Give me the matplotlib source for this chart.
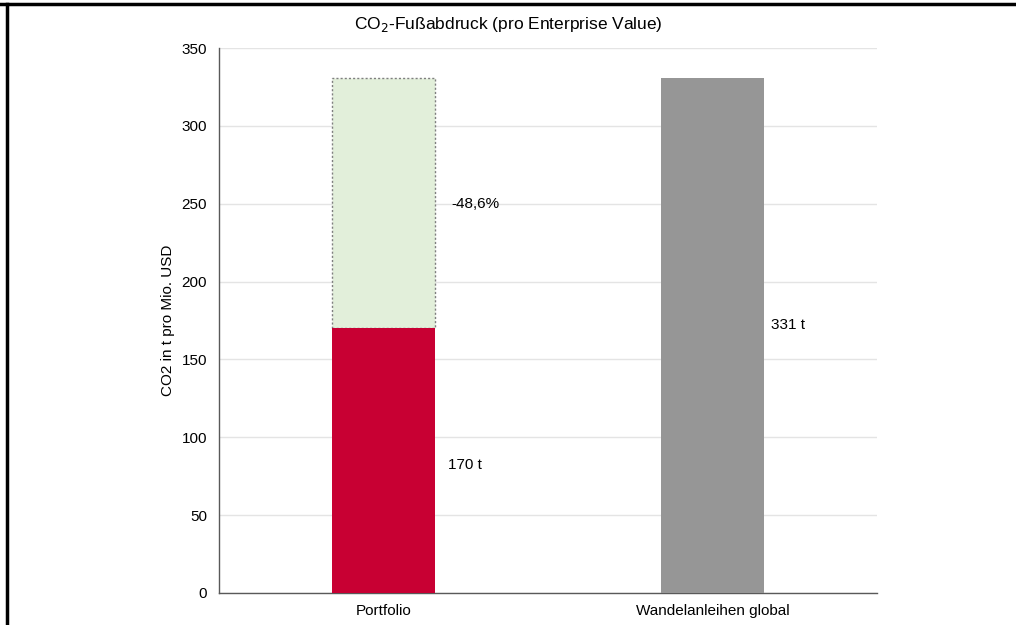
import matplotlib.pyplot as plt
import numpy as np

# data
categories = ['Portfolio', 'Wandelanleihen global']
footprint = [170, 331]          # t CO2 per Mio. USD
benchmark = 331                 # reference level for the portfolio bar
reduction_label = '-48,6%'
value_labels = ['170 t', '331 t']
label_y = [82, 172]
reduction_y = 250

plt.rcParams['font.family'] = ['Liberation Sans', 'DejaVu Sans']

fig = plt.figure(figsize=(10.16, 6.25), dpi=100)
ax = fig.add_axes([219 / 1016, 1 - 593 / 625, (877 - 219) / 1016, (593 - 48) / 625])

x = np.arange(len(categories))
w = 0.314

# gap between portfolio and benchmark (dotted outline)
ax.bar(x[0], benchmark - footprint[0], bottom=footprint[0], width=w,
       color='#e2efda', edgecolor='#7f7f7f', linestyle=(0, (1.5, 1.5)),
       linewidth=1.0, zorder=2)
ax.bar(x[0], footprint[0], width=w, color='#c80033', zorder=3)
ax.bar(x[1], footprint[1], width=w, color='#969696', zorder=3)

ax.text(x[0] + w / 2 + 0.04, label_y[0], value_labels[0], fontsize=11, va='center')
ax.text(x[0] + w / 2 + 0.05, reduction_y, reduction_label, fontsize=11, va='center')
ax.text(x[1] + w / 2 + 0.02, label_y[1], value_labels[1], fontsize=11, va='center')

ax.set_xlim(-0.5, 1.5)
ax.set_ylim(0, 350)
ax.set_yticks(range(0, 351, 50))
ax.set_xticks(x)
ax.set_xticklabels(categories)
ax.tick_params(axis='both', length=0, labelsize=11, colors='#000000')
ax.tick_params(axis='y', pad=8.5)
ax.tick_params(axis='x', pad=8)
ax.yaxis.grid(True, color='#e4e4e4', linewidth=1.0, zorder=0)
ax.set_axisbelow(True)
for s in ['top', 'right']:
    ax.spines[s].set_visible(False)
for s in ['left', 'bottom']:
    ax.spines[s].set_color('#595959')
    ax.spines[s].set_linewidth(1.0)

ax.set_ylabel('CO2 in t pro Mio. USD', fontsize=11, labelpad=5)
fig.text(0.5, 1 - 25 / 625, 'CO$_2$-Fußabdruck (pro Enterprise Value)',
         ha='center', va='center', fontsize=12.5)

# frame lines at top and left of the picture
fig.add_artist(plt.Line2D([0, 1], [1 - 4 / 625, 1 - 4 / 625], color='black', linewidth=2.5))
fig.add_artist(plt.Line2D([7 / 1016, 7 / 1016], [0, 1 - 4 / 625], color='black', linewidth=2.5))

fig.savefig('out.png', dpi=100)
